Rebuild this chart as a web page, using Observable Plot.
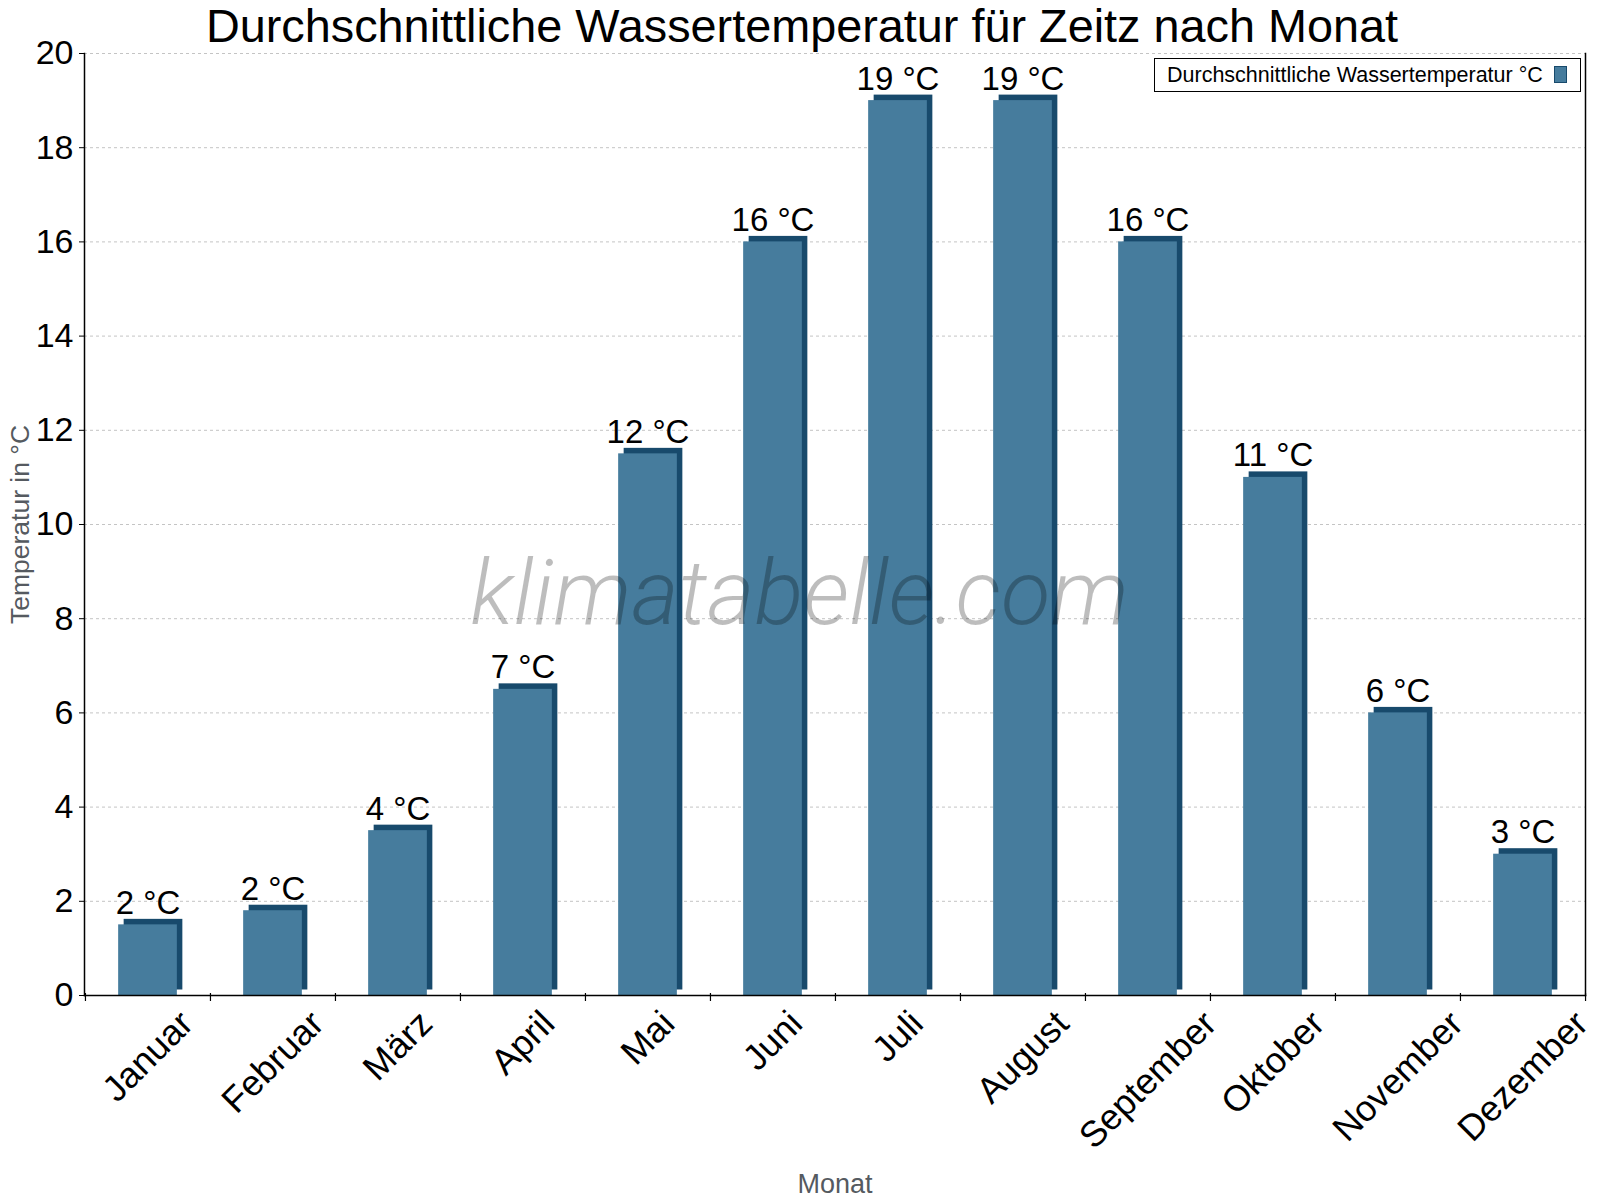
<!DOCTYPE html>
<html>
<head>
<meta charset="utf-8">
<script src="https://cdn.jsdelivr.net/npm/d3@7"></script>
<script src="https://cdn.jsdelivr.net/npm/@observablehq/plot@0.6"></script>
<style>
  body { margin: 0; background: #fff; font-family: "Liberation Sans", Arial, sans-serif; }
  #wrap { position: relative; width: 1600px; height: 1200px; overflow: hidden; }
  #title { position: absolute; left: 2px; top: 0px; width: 1600px; text-align: center; font-size: 46.8px; line-height: 53px; color: #000; white-space: nowrap; }
  #legend { position: absolute; left: 1154px; top: 58px; width: 427px; height: 34px; box-sizing: border-box; border: 1.5px solid #000; background: #fff; }
  #legend .lbl { position: absolute; left: 12px; top: 0; line-height: 32px; font-size: 21.5px; color: #000; white-space: nowrap; }
  #legend .sw { position: absolute; left: 399px; top: 7px; width: 13px; height: 17px; box-sizing: border-box; background: #467C9D; border: 1px solid #184A6C; }
</style>
</head>
<body>
<div id="wrap">
  <div id="chart"></div>
  <div id="title"></div>
  <div id="legend"><span class="lbl"></span><span class="sw"></span></div>
</div>
<script>
// ---- data ----
const titleText = "Durchschnittliche Wassertemperatur für Zeitz nach Monat";
const seriesName = "Durchschnittliche Wassertemperatur °C";
const months = ["Januar", "Februar", "März", "April", "Mai", "Juni", "Juli", "August", "September", "Oktober", "November", "Dezember"];
const temps = [1.5, 1.8, 3.5, 6.5, 11.5, 16, 19, 19, 16, 11, 6, 3];
const yTicks = [0, 2, 4, 6, 8, 10, 12, 14, 16, 18, 20];
const yLabel = "Temperatur in °C";
const xLabel = "Monat";
const watermark = "klimatabelle.com";

// ---- layout / style ----
const W = 1600, H = 1200;
const mL = 84, mR = 15, mT = 53, mB = 205;
const front = "#467C9D", side = "#184A6C";
const font = "'Liberation Sans', Arial, sans-serif";
const bw = (W - mL - mR) / months.length;
const inset = bw * 0.265;
const depth = 5.5;
const tickFs = 34;
const xTickFs = 36;

document.getElementById("title").textContent = titleText;
document.querySelector("#legend .lbl").textContent = seriesName;

const data = months.map((m, i) => ({month: m, temp: temps[i], label: Math.round(temps[i]) + " °C"}));

// measure month label widths to place rotated labels centered under each band
const ctx = document.createElement("canvas").getContext("2d");
ctx.font = `${xTickFs}px ${font}`;
const monthMarks = months.map(m => {
  const L = ctx.measureText(m).width;
  const dy = 13 + 0.354 * (L + 0.72 * xTickFs);
  return Plot.text([m], {x: d => d, frameAnchor: "bottom", dy, rotate: -45, textAnchor: "middle", lineAnchor: "middle", fontSize: xTickFs, fill: "#000"});
});

const chart = Plot.plot({
  width: W, height: H,
  marginLeft: mL, marginRight: mR, marginTop: mT, marginBottom: mB,
  style: {fontFamily: font, background: "#fff", overflow: "visible"},
  x: {type: "band", domain: months, padding: 0, axis: null},
  y: {domain: [0, 20], axis: null},
  marks: [
    Plot.ruleY(yTicks.filter(t => t > 0), {y: d => d, stroke: "#c4c4c4", strokeDasharray: "3,3", strokeWidth: 1}),
    Plot.barY(data, {x: "month", y: "temp", fill: side, insetLeft: inset, insetRight: inset, dx: depth, dy: -depth}),
    Plot.barY(data, {x: "month", y: "temp", fill: front, insetLeft: inset, insetRight: inset}),
    Plot.text(data, {x: "month", y: "temp", text: "label", dy: -11, lineAnchor: "bottom", textAnchor: "middle", fontSize: 33, fill: "#000"}),
    Plot.frame({anchor: "left", stroke: "#000", strokeWidth: 1.5}),
    Plot.frame({anchor: "right", stroke: "#000", strokeWidth: 1.5}),
    Plot.frame({anchor: "bottom", stroke: "#000", strokeWidth: 1.5}),
    Plot.axisY(yTicks, {tickSize: 5, tickPadding: 6, fontSize: tickFs, label: null, stroke: "#000", fill: "#000"}),
    Plot.ruleX(months, {x: d => d, y1: 0, y2: 0, dx: -bw / 2, insetTop: -2, insetBottom: -6, stroke: "#000", strokeWidth: 1.2}),
    Plot.ruleX([months[months.length - 1]], {x: d => d, y1: 0, y2: 0, dx: bw / 2, insetTop: -2, insetBottom: -6, stroke: "#000", strokeWidth: 1.2}),
    ...monthMarks,
    Plot.text([yLabel], {frameAnchor: "left", dx: -64, rotate: -90, textAnchor: "middle", lineAnchor: "middle", fontSize: 26.5, fill: "#555a60"}),
    Plot.text([xLabel], {frameAnchor: "bottom", dy: 189, textAnchor: "middle", lineAnchor: "middle", fontSize: 27, fill: "#555a60"}),
    Plot.text([watermark], {frameAnchor: "top-left", dx: 715, dy: 570, lineAnchor: "bottom", textAnchor: "middle", fontSize: 91, fontStyle: "italic", fontWeight: 300, fontFamily: "Roboto", fill: "#000", fillOpacity: 0.26})
  ]
});
document.getElementById("chart").appendChild(chart);
</script>
</body>
</html>
